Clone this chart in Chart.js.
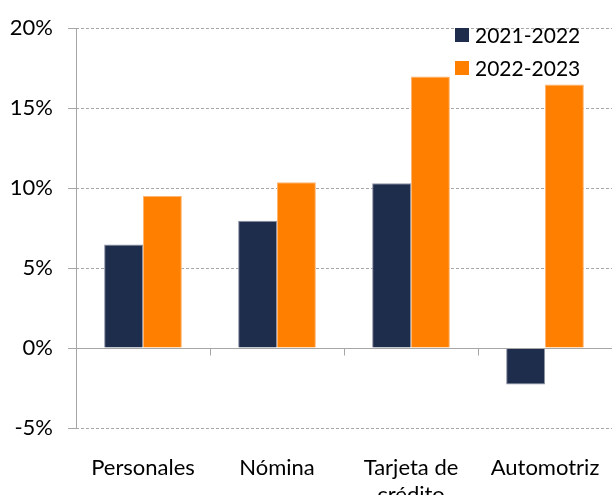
<!DOCTYPE html>
<html>
<head>
<meta charset="utf-8">
<script src="https://cdn.jsdelivr.net/npm/chart.js@4.4.0/dist/chart.umd.min.js"></script>
<style>
    html, body { margin: 0; padding: 0; background: #fff; overflow: hidden; }
    #wrap { position: relative; width: 612px; height: 495px; }
    #legend { position: absolute; left: 455px; top: 18px; font-family: Lato, sans-serif; font-size: 21px; color: #000; }
    #legend div { display: flex; align-items: center; height: 33px; white-space: nowrap; }
    #legend span.box { display: inline-block; width: 14px; height: 14px; margin-right: 6px; }
</style>
</head>
<body>
<div id="wrap">
    <canvas id="creditChart" width="612" height="495"></canvas>
    <div id="legend"></div>
</div>
<script>
// ===============================
// Data
// ===============================
const categories = ['Personales', 'Nómina', ['Tarjeta de', 'crédito'], 'Automotriz'];
const seriesNames = ['2021-2022', '2022-2023'];
const values2122 = [6.48, 7.96, 10.3, -2.28];
const values2223 = [9.5, 10.37, 16.98, 16.48];
const yTicks = [-5, 0, 5, 10, 15, 20];

const colors = ['#1f2d4d', '#ff7f00'];
const edgeColors = ['#8c93a3', '#ffb570'];
const gridGrey = '#a6a6a6';
const fontFamily = 'Lato, sans-serif';

// y axis line, zero line + category tick marks below it
const axisLines = {
    id: 'axisLines',
    afterDatasetsDraw(chart) {
        const { ctx, chartArea, scales: { x, y } } = chart;
        const y0 = Math.round(y.getPixelForValue(0)) + 0.5;
        const xl = Math.round(chartArea.left) + 0.5;
        ctx.save();
        ctx.strokeStyle = gridGrey;
        ctx.lineWidth = 1;
        ctx.beginPath();
        ctx.moveTo(xl, chartArea.top);
        ctx.lineTo(xl, chartArea.bottom);
        ctx.moveTo(chartArea.left, y0);
        ctx.lineTo(chartArea.right, y0);
        for (let i = 0; i < categories.length - 1; i++) {
            const xb = Math.round((x.getPixelForValue(i) + x.getPixelForValue(i + 1)) / 2) + 0.5;
            ctx.moveTo(xb, y0);
            ctx.lineTo(xb, y0 + 7);
        }
        ctx.stroke();
        ctx.restore();
    }
};

const chart = new Chart(document.getElementById('creditChart').getContext('2d'), {
    type: 'bar',
    data: {
        labels: categories,
        datasets: [{
            label: seriesNames[0],
            data: values2122,
            backgroundColor: colors[0],
            borderColor: edgeColors[0],
            borderWidth: 1
        }, {
            label: seriesNames[1],
            data: values2223,
            backgroundColor: colors[1],
            borderColor: edgeColors[1],
            borderWidth: 1
        }]
    },
    options: {
        responsive: false,
        animation: false,
        devicePixelRatio: 1,
        categoryPercentage: 0.58,
        barPercentage: 1.0,
        layout: { padding: { top: 23, right: 0, left: 0, bottom: 0 } },
        plugins: { legend: { display: false }, tooltip: { enabled: false } },
        scales: {
            y: {
                min: yTicks[0],
                max: yTicks[yTicks.length - 1],
                afterFit: s => { s.width = 76; },
                ticks: {
                    stepSize: yTicks[1] - yTicks[0],
                    callback: v => v + '%',
                    color: '#000',
                    padding: 15,
                    font: { family: fontFamily, size: 22 }
                },
                grid: {
                    color: c => (c.tick && c.tick.value === 0) ? 'rgba(0,0,0,0)' : gridGrey,
                    tickColor: gridGrey,
                    tickLength: 8
                },
                border: { display: false, dash: [3, 2] }
            },
            x: {
                afterFit: s => { s.height = 67; s.paddingLeft = 0; s.paddingRight = 0; },
                grid: { display: false },
                border: { display: false },
                ticks: {
                    color: '#000',
                    padding: 18,
                    maxRotation: 0,
                    font: { family: fontFamily, size: 22, lineHeight: 1.25 }
                }
            }
        }
    },
    plugins: [axisLines]
});

// ===============================
// Legend (top-right, inside plot)
// ===============================
const legendEl = document.getElementById('legend');
chart.data.datasets.forEach(ds => {
    const row = document.createElement('div');
    row.innerHTML = '<span class="box" style="background:' + ds.backgroundColor + '"></span>' + ds.label;
    legendEl.appendChild(row);
});
</script>
</body>
</html>
